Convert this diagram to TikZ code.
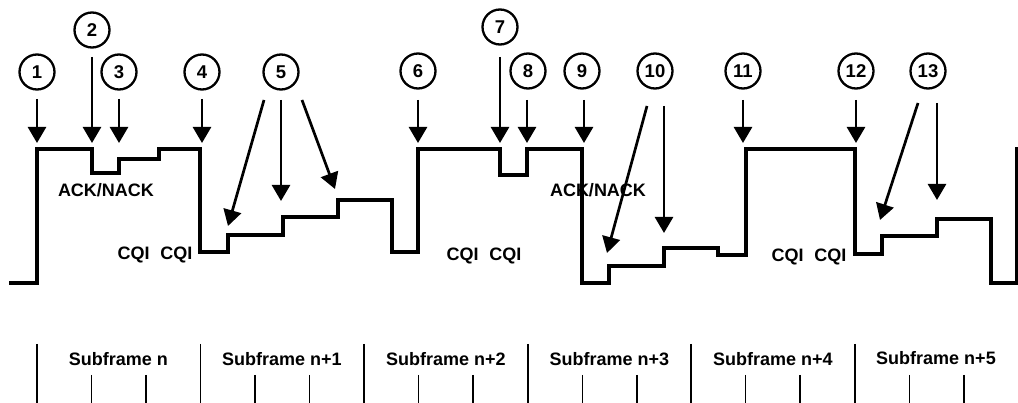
\documentclass[tikz,border=0pt]{standalone}
\usepackage{fontspec}
\setmainfont{Liberation Sans}
\usetikzlibrary{arrows.meta}
\begin{document}
\begin{tikzpicture}[x=1pt,y=-1pt,
  wave/.style={line width=4pt, line join=miter},
  ptr/.style={line width=2.7pt, -{Triangle[length=16pt,width=18pt]}},
  num/.style={circle, draw, line width=2.3pt, minimum size=35pt, inner sep=0pt, font=\fontsize{18.5}{18.5}\selectfont\bfseries},
  lbl/.style={font=\fontsize{18}{18}\selectfont\bfseries, inner sep=0pt},
  tall/.style={line width=1.3pt},
  short/.style={line width=1.3pt}]
\useasboundingbox (0,0) rectangle (1018,403);

% numbered circles
\node[num] (c1)  at (37,72)  {1};
\node[num] (c2)  at (92,30)  {2};
\node[num] (c3)  at (119,72) {3};
\node[num] (c4)  at (202,72) {4};
\node[num] (c5)  at (281,72) {5};
\node[num] (c6)  at (418,71) {6};
\node[num] (c7)  at (500,27) {7};
\node[num] (c8)  at (528,71) {8};
\node[num] (c9)  at (582,71) {9};
\node[num] (c10) at (655,71) {10};
\node[num] (c11) at (743,71) {11};
\node[num] (c12) at (856,71) {12};
\node[num] (c13) at (928,71) {13};

% waveform
\draw[wave] (9,283) -- (37,283) -- (37,149) -- (92,149) -- (92,173) -- (119,173)
  -- (119,159) -- (159,159) -- (159,149) -- (200,149) -- (200,252) -- (228,252)
  -- (228,235) -- (283,235) -- (283,217) -- (338,217) -- (338,200) -- (392,200)
  -- (392,252) -- (418,252) -- (418,149) -- (500,149) -- (500,175) -- (527,175)
  -- (527,149) -- (582,149) -- (582,283) -- (609,283) -- (609,266) -- (664,266)
  -- (664,248) -- (718,248) -- (718,255) -- (746,255) -- (746,149) -- (855,149)
  -- (855,254) -- (882,254) -- (882,236) -- (937,236) -- (937,219) -- (991,219)
  -- (991,283) -- (1017,283) -- (1017,147);

% arrow ends
\coordinate (s1) at (37,99);    \coordinate (t1) at (37,143);
\coordinate (s2) at (92,57);    \coordinate (t2) at (92,143);
\coordinate (s3) at (119,99);   \coordinate (t3) at (119,143);
\coordinate (s4) at (202,99);   \coordinate (t4) at (202,143);
\coordinate (s5a) at (264,100); \coordinate (t5a) at (228,226);
\coordinate (s5b) at (281,100); \coordinate (t5b) at (281,201);
\coordinate (s5c) at (302,100); \coordinate (t5c) at (335,189);
\coordinate (s6) at (418,100);  \coordinate (t6) at (418,143);
\coordinate (s7) at (500,57);   \coordinate (t7) at (500,143);
\coordinate (s8) at (527,100);  \coordinate (t8) at (527,143);
\coordinate (s9) at (584,100);  \coordinate (t9) at (584,143);
\coordinate (s10a) at (647,106); \coordinate (t10a) at (607,253);
\coordinate (s10b) at (664,106); \coordinate (t10b) at (664,233);
\coordinate (s11) at (743,100); \coordinate (t11) at (743,143);
\coordinate (s12) at (856,100); \coordinate (t12) at (856,143);
\coordinate (s13a) at (918,103); \coordinate (t13a) at (880,220);
\coordinate (s13b) at (937,103); \coordinate (t13b) at (937,200);

\foreach \a in {1,2,3,4,5a,5b,5c,6,7,8,9,10a,10b,11,12,13a,13b}
  \draw[ptr] (s\a) -- (t\a);

% labels
\node[lbl] (ack1) at (106,190) {ACK/NACK};
\node[lbl] (ack2) at (598,190) {ACK/NACK};
\node[lbl] (cqi1) at (155,255) {CQI\hspace{0.6em}CQI};
\node[lbl] (cqi2) at (484,256) {CQI\hspace{0.6em}CQI};
\node[lbl] (cqi3) at (809,257) {CQI\hspace{0.6em}CQI};

% subframe grid
\foreach \x in {37,200.5,364,528,691,855}
  \draw[tall] (\x,344) -- (\x,403);
\foreach \x in {37,200.5,364,528,691,855}{
  \draw[short] (\x+54.5,375) -- (\x+54.5,403);
  \draw[short] (\x+109,375) -- (\x+109,403);
}
\node[lbl] (sf0) at (118.5,359) {Subframe n};
\node[lbl] (sf1) at (282,359) {Subframe n+1};
\node[lbl] (sf2) at (446,359) {Subframe n+2};
\node[lbl] (sf3) at (609.5,359) {Subframe n+3};
\node[lbl] (sf4) at (773,359) {Subframe n+4};
\node[lbl] (sf5) at (936,358) {Subframe n+5};
\end{tikzpicture}
\end{document}
